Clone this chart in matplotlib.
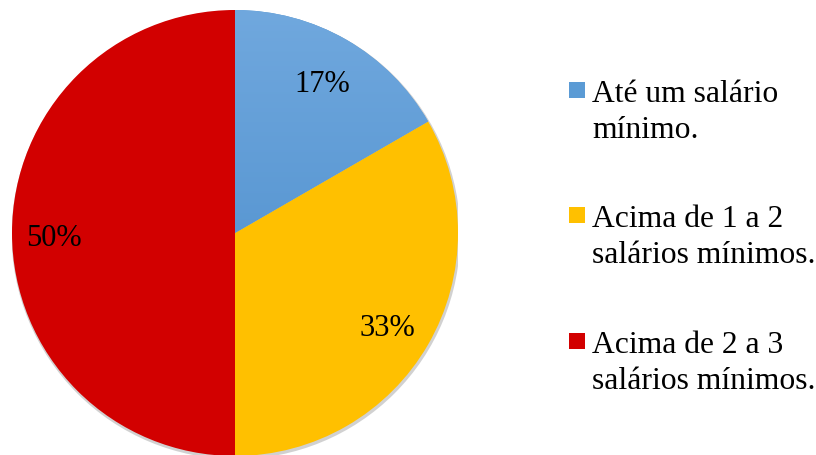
import matplotlib
matplotlib.use("Agg")
import matplotlib.pyplot as plt
import numpy as np
from matplotlib.patches import Rectangle, Circle

categories = ["Até um salário\nmínimo.",
              "Acima de 1 a 2\nsalários mínimos.",
              "Acima de 2 a 3\nsalários mínimos."]
values = [1, 2, 3]
colors = ["#5B9BD5", "#FFC000", "#D20000"]

W, H = 816, 456
fig = plt.figure(figsize=(W / 100, H / 100), dpi=100)
plt.rcParams['font.family'] = ['Liberation Serif', 'DejaVu Serif']

cx, cy, r = 235, 234, 223
ax = fig.add_axes([(cx - r) / W, (H - cy - r) / H, 2 * r / W, 2 * r / H])
ax.set_xlim(-1, 1)
ax.set_ylim(-1, 1)
ax.set_aspect('equal')
ax.axis('off')

# subtle shadow
ax.add_patch(Circle((0.004, -0.008), 1.006, color='#9a9a9a', alpha=0.45, zorder=0, lw=0))

wedges, texts, autotexts = ax.pie(values, colors=colors, startangle=90, counterclock=False,
                                  autopct='%1.0f%%', pctdistance=0.8, radius=1,
                                  wedgeprops=dict(linewidth=0),
                                  textprops=dict(fontsize=22, color='black'))
for w in wedges:
    w.set_zorder(1)
for t in autotexts:
    t.set_zorder(3)
    x, y = t.get_position()
    t.set_position((x - 0.01, y - 0.022))

# gradient on blue slice
grad = np.linspace(0, 1, 256).reshape(-1, 1)
top = np.array([0x70, 0xA8, 0xDE]) / 255
bot = np.array([0x44, 0x88, 0xC8]) / 255
img = top[None, None, :] * (1 - grad[:, :, None]) + bot[None, None, :] * grad[:, :, None]
im = ax.imshow(img, extent=[-1, 1, -1, 1], origin='upper', zorder=2, aspect='auto')
im.set_clip_path(wedges[0])
ax.set_xlim(-1, 1)
ax.set_ylim(-1, 1)

# legend (manual)
baselines = [102, 227, 353]
line_gap = 36
for i, (lab, col) in enumerate(zip(categories, colors)):
    b = baselines[i]
    sq_top = b - 19
    fig.patches.append(Rectangle((569 / W, 1 - (sq_top + 16) / H), 16 / W, 16 / H,
                                 transform=fig.transFigure, facecolor=col, edgecolor='none'))
    for j, line in enumerate(lab.split("\n")):
        fig.text(592 / W, 1 - (b + j * line_gap) / H, line, fontsize=22.8,
                 va='baseline', ha='left', color='black')

fig.savefig("out.png", dpi=100)
